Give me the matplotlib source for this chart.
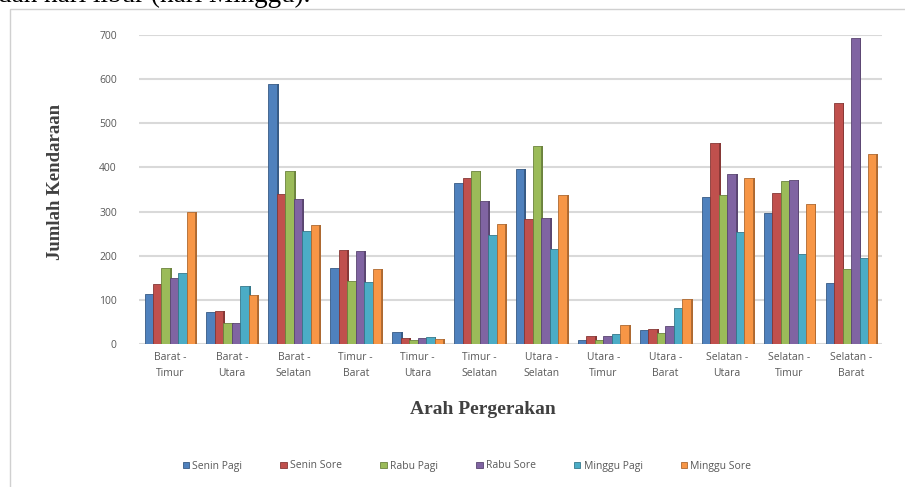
import matplotlib.pyplot as plt
import matplotlib.colors as mcolors
import numpy as np

# Data jumlah kendaraan per arah pergerakan
arah = ["Barat -\nTimur", "Barat -\nUtara", "Barat -\nSelatan", "Timur -\nBarat",
        "Timur -\nUtara", "Timur -\nSelatan", "Utara -\nSelatan", "Utara -\nTimur",
        "Utara -\nBarat", "Selatan -\nUtara", "Selatan -\nTimur", "Selatan -\nBarat"]

senin_pagi = [113, 72, 588, 173, 28, 365, 397, 9, 31, 333, 296, 139]
senin_sore = [135, 75, 340, 213, 13, 376, 284, 17, 35, 456, 341, 546]
rabu_pagi = [173, 47, 391, 142, 9, 391, 449, 9, 24, 337, 369, 171]
rabu_sore = [149, 47, 328, 210, 13, 323, 286, 18, 41, 385, 372, 694]
minggu_pagi = [160, 132, 255, 140, 15, 247, 215, 23, 81, 253, 203, 195]
minggu_sore = [298, 112, 270, 171, 11, 272, 338, 42, 101, 375, 318, 431]

series = [
    ("Senin Pagi", senin_pagi, "#4F81BD"),
    ("Senin Sore", senin_sore, "#C0504D"),
    ("Rabu Pagi", rabu_pagi, "#9BBB59"),
    ("Rabu Sore", rabu_sore, "#8064A2"),
    ("Minggu Pagi", minggu_pagi, "#4BACC6"),
    ("Minggu Sore", minggu_sore, "#F79646"),
]

W, H = 905, 487
fig = plt.figure(figsize=(W / 100, H / 100), dpi=100)

# sisa teks paragraf di atas grafik (terpotong)
fig.text(-0.002, 1 - 2 / H, "dan hari libur (hari Minggu).", family="Liberation Serif",
         fontsize=19.5, ha="left", va="baseline", color="black")

# bingkai area grafik
frame = plt.Rectangle((10 / W, -0.05), 1.05, 1 - 9 / H + 0.05, transform=fig.transFigure,
                      fill=False, edgecolor="#d0d0d0", linewidth=1.0)
fig.patches.append(frame)

ax = fig.add_axes([139 / W, 1 - 344 / H, 743 / W, 309 / H])

x = np.arange(len(arah))
w = 0.137
for i, (nama, vals, warna) in enumerate(series):
    pos = x + (i - 2.5) * w
    gelap = tuple(c * 0.7 for c in mcolors.to_rgb(warna))
    ax.bar(pos, vals, width=w, color=warna, edgecolor=gelap, linewidth=0.6,
           label=nama, zorder=3)
    # sisi kanan yang lebih gelap (efek 3D)
    ax.bar(pos + w * 0.5, vals, width=w * 0.22, align="edge", color=gelap,
           linewidth=0, zorder=2)

ax.set_xlim(-0.5, len(arah) - 0.5)
ax.set_ylim(0, 700)
ax.set_yticks(range(0, 701, 100))
ax.grid(axis="y", color="#d9d9d9", linewidth=1.5, zorder=0)
for s in ax.spines.values():
    s.set_visible(False)

ax.set_xticks(x)
ax.set_xticklabels(arah, family="Open Sans", fontsize=7.5, color="#595959", linespacing=1.6)
ax.tick_params(axis="x", length=0, pad=6)
ax.tick_params(axis="y", length=0, pad=16, labelsize=7.5, labelcolor="#595959")
for t in ax.get_yticklabels():
    t.set_family("Open Sans")

fig.text(56 / W, 1 - 182 / H, "Jumlah Kendaraan", family="Liberation Serif", fontweight="bold",
         fontsize=13.5, color="#404040", rotation=90, ha="center", va="center")
fig.text(483 / W, 1 - 410 / H, "Arah Pergerakan", family="Liberation Serif", fontweight="bold",
         fontsize=14, color="#404040", ha="center", va="center")

fig.legend(*ax.get_legend_handles_labels(), loc="center", bbox_to_anchor=(467 / W, 1 - 466 / H),
           ncol=6, frameon=False, handlelength=0.6, handleheight=0.6, handletextpad=0.3,
           columnspacing=3.7, prop={"family": "Open Sans", "size": 7.5}, labelcolor="#595959")

fig.savefig("out.png", dpi=100)
